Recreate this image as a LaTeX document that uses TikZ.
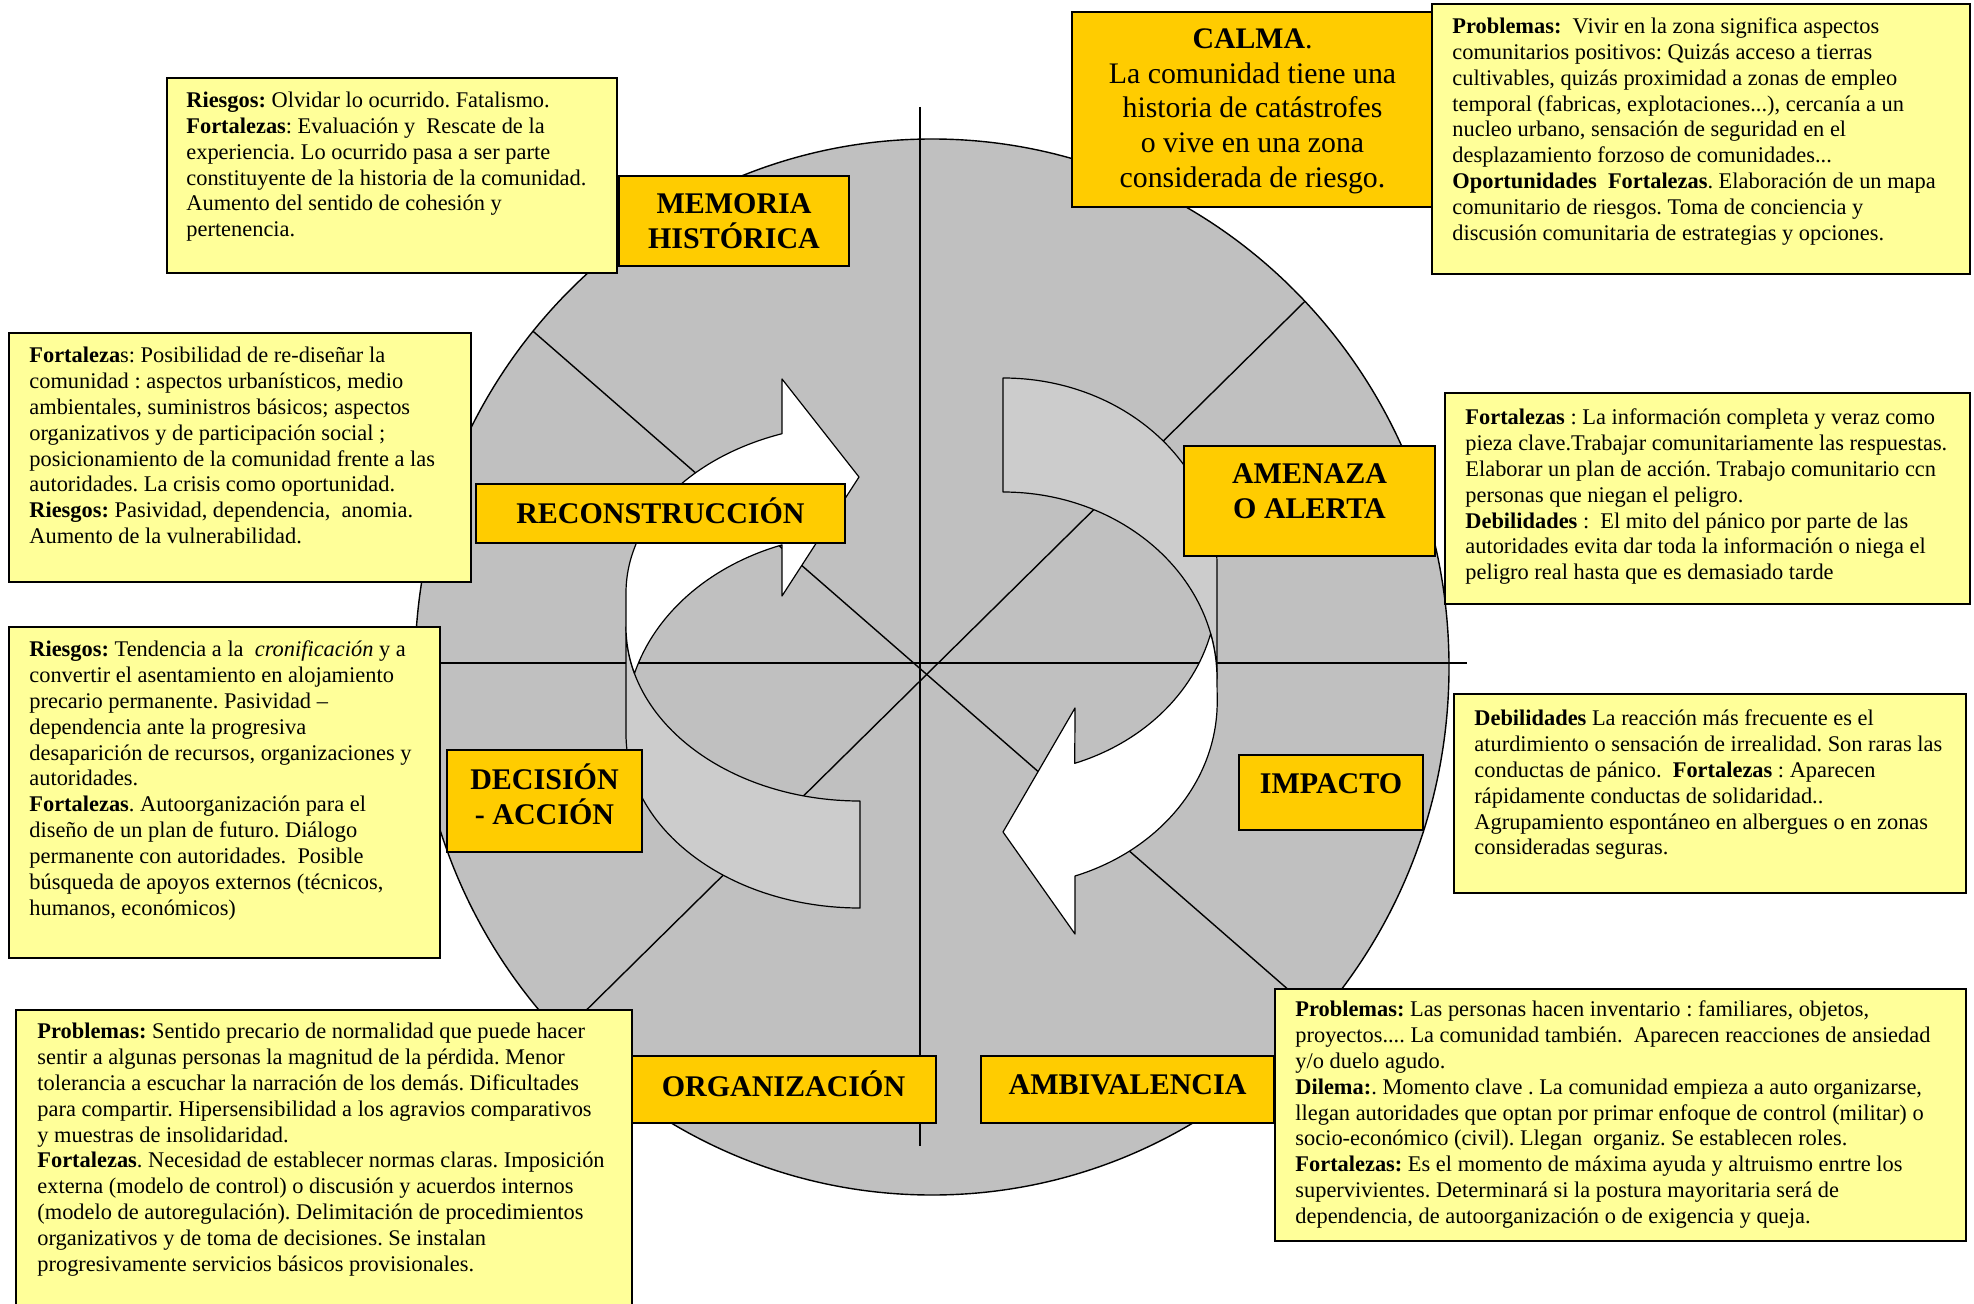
\documentclass[tikz,border=0pt]{standalone}
\usepackage{fontspec}
\setmainfont{Liberation Serif}
\frenchspacing
\definecolor{circgray}{HTML}{C0C0C0}
\definecolor{bandgray}{HTML}{CCCCCC}
\definecolor{gold}{HTML}{FFCC00}
\definecolor{paleyellow}{HTML}{FFFF99}
\newcommand\bodyfnt{\fontsize{11.2}{12.95}\selectfont}
\newcommand\labfnt{\fontsize{15}{17.5}\selectfont\bfseries}
\newcommand\calmafnt{\fontsize{14.9}{17.4}\selectfont}
\newcommand\bstrut{\rule{0pt}{10pt}}
\newcommand\lstrut{\rule{0pt}{12pt}}
\tikzset{
 tbox/.style={draw=black, line width=0.9pt, fill=paleyellow, rectangle, inner sep=0pt, outer sep=0pt, anchor=north west},
 gbox/.style={draw=black, line width=0.8pt, fill=gold, rectangle, inner sep=0pt, outer sep=0pt, anchor=north west},
 ttext/.style={anchor=north west, align=left, inner sep=0pt, font=\bodyfnt},
 ltext/.style={anchor=north, align=center, inner sep=0pt, font=\labfnt},
 arrowline/.style={draw=black, line width=0.6pt, line join=round},
 divline/.style={draw=black, line width=0.7pt},
}
\begin{document}
\begin{tikzpicture}[x=0.5pt,y=-0.5pt]
\useasboundingbox (0,0) rectangle (1974,1304);
% wheel
\draw[fill=circgray, line width=0.7pt] (932,667) ellipse [x radius=258.5pt, y radius=264pt];
\begin{scope}
\clip (932,667) ellipse [x radius=258.5pt, y radius=264pt];
\draw[divline] (480,285) -- (1400,1087);
\draw[divline] (1360,247) -- (480,1115);
\end{scope}
\draw[divline] (920,107) -- (920,1146);
\draw[divline] (441,663) -- (1467,663);
% right arrow: back band (grey), then front band (white) with head
\path[arrowline, fill=bandgray] (1003,378) arc[start angle=90, end angle=0, x radius=107pt, y radius=93.5pt]
  -- (1217,679) arc[start angle=0, end angle=90, x radius=107pt, y radius=93.5pt] -- cycle;
\path[arrowline, fill=white] (1210.6,633.8) arc[start angle=-14, end angle=-70.4, x radius=107pt, y radius=92.5pt]
  -- (1075,708) -- (1003,832) -- (1075,934) -- (1075,876)
  arc[start angle=-70.4, end angle=0, x radius=107pt, y radius=92.5pt]
  -- (1217,679) arc[start angle=0, end angle=14, x radius=107pt, y radius=93.5pt] -- cycle;
% left arrow: back band (grey), then front band (white) with head
\path[arrowline, fill=bandgray] (860,908) arc[start angle=270, end angle=180, x radius=117pt, y radius=87pt]
  -- (626,627) arc[start angle=180, end angle=270, x radius=117pt, y radius=87pt] -- cycle;
\path[arrowline, fill=white] (634.5,673.4) arc[start angle=164.55, end angle=109.47, x radius=117pt, y radius=95pt]
  -- (782,596) -- (859,477) -- (782,379) -- (782,433.7)
  arc[start angle=109.47, end angle=180, x radius=117pt, y radius=84.5pt]
  -- (626,627) arc[start angle=180, end angle=195.45, x radius=117pt, y radius=87pt] -- cycle;
% phase labels
\node[gbox, minimum width=115pt, minimum height=45pt] (memoriabox) at (619,176) {};
\node[ltext] (memoria) at (734,189) {\lstrut MEMORIA\\HISTÓRICA};
\node[gbox, minimum width=184.5pt, minimum height=29.5pt] (reconbox) at (476,484) {};
\node[ltext] (recon) at (660.5,497) {\lstrut RECONSTRUCCIÓN};
\node[gbox, minimum width=125.5pt, minimum height=55pt] (amenazabox) at (1184,446) {};
\node[ltext] (amenaza) at (1309.5,459) {\lstrut AMENAZA\\O ALERTA};
\node[gbox, minimum width=97.5pt, minimum height=51pt] (decisionbox) at (447,750) {};
\node[ltext] (decision) at (544.5,763) {\lstrut DECISIÓN\\- ACCIÓN};
\node[gbox, minimum width=92pt, minimum height=37.5pt] (impactobox) at (1239,755) {};
\node[ltext] (impacto) at (1331,769) {\lstrut IMPACTO};
\node[gbox, minimum width=152.5pt, minimum height=33.5pt] (organizbox) at (631,1056) {};
\node[ltext] (organiz) at (783.5,1070) {\lstrut ORGANIZACIÓN};
\node[gbox, minimum width=146.5pt, minimum height=33.5pt] (ambivalbox) at (981,1056) {};
\node[ltext] (ambival) at (1127.5,1070) {\lstrut AMBIVALENCIA};
\node[gbox, minimum width=180.5pt, minimum height=97.5pt] (calmabox) at (1072,12) {};
\node[anchor=north, align=center, inner sep=0pt, font=\calmafnt] (calma) at (1252.5,24) {\lstrut\textbf{CALMA}.\\La comunidad tiene una\\historia de catástrofes\\o vive en una zona\\considerada de riesgo.};
% text boxes
\node[tbox, minimum width=225pt, minimum height=97.5pt] (t1box) at (167,78) {};
\node[ttext] (t1) at (186,87) {\bstrut\textbf{Riesgos:} Olvidar lo ocurrido. Fatalismo.\\
\textbf{Fortalezas}: Evaluación y\ \ Rescate de la\\
experiencia. Lo ocurrido pasa a ser parte\\
constituyente de la historia de la comunidad.\\
Aumento del sentido de cohesión y\\
pertenencia.};
\node[tbox, minimum width=269pt, minimum height=135pt] (t2box) at (1432,4) {};
\node[ttext] (t2) at (1452,13) {\bstrut\textbf{Problemas:}\ \ Vivir en la zona significa aspectos\\
comunitarios positivos: Quizás acceso a tierras\\
cultivables, quizás proximidad a zonas de empleo\\
temporal (fabricas, explotaciones...), cercanía a un\\
nucleo urbano, sensación de seguridad en el\\
desplazamiento forzoso de comunidades...\\
\textbf{Oportunidades\ \ Fortalezas}. Elaboración de un mapa\\
comunitario de riesgos. Toma de conciencia y\\
discusión comunitaria de estrategias y opciones.};
\node[tbox, minimum width=231pt, minimum height=124.5pt] (t3box) at (9,333) {};
\node[ttext] (t3) at (29,342) {\bstrut\textbf{Fortaleza}s: Posibilidad de re-diseñar la\\
comunidad : aspectos urbanísticos, medio\\
ambientales, suministros básicos; aspectos\\
organizativos y de participación social ;\\
posicionamiento de la comunidad frente a las\\
autoridades. La crisis como oportunidad.\\
\textbf{Riesgos:} Pasividad, dependencia,\ \ anomia.\\
Aumento de la vulnerabilidad.};
\node[tbox, minimum width=262.5pt, minimum height=105.5pt] (t4box) at (1445,393) {};
\node[ttext] (t4) at (1465,404) {\bstrut\textbf{Fortalezas} : La información completa y veraz como\\
pieza clave.Trabajar comunitariamente las respuestas.\\
Elaborar un plan de acción. Trabajo comunitario ccn\\
personas que niegan el peligro.\\
\textbf{Debilidades} :\ \ El mito del pánico por parte de las\\
autoridades evita dar toda la información o niega el\\
peligro real hasta que es demasiado tarde};
\node[tbox, minimum width=215.5pt, minimum height=165.5pt] (t5box) at (9,627) {};
\node[ttext] (t5) at (29,636) {\bstrut\textbf{Riesgos:} Tendencia a la\ \ \textit{cronificación} y a\\
convertir el asentamiento en alojamiento\\
precario permanente. Pasividad –\\
dependencia ante la progresiva\\
desaparición de recursos, organizaciones y\\
autoridades.\\
\textbf{Fortalezas}. Autoorganización para el\\
diseño de un plan de futuro. Diálogo\\
permanente con autoridades.\ \ Posible\\
búsqueda de apoyos externos (técnicos,\\
humanos, económicos)};
\node[tbox, minimum width=256pt, minimum height=99.5pt] (t6box) at (1454,694) {};
\node[ttext] (t6) at (1474,705) {\bstrut\textbf{Debilidades} La reacción más frecuente es el\\
aturdimiento o sensación de irrealidad. Son raras las\\
conductas de pánico.\ \ \textbf{Fortalezas} : Aparecen\\
rápidamente conductas de solidaridad..\\
Agrupamiento espontáneo en albergues o en zonas\\
consideradas seguras.};
\node[tbox, minimum width=308pt, minimum height=151pt] (t7box) at (16,1010) {};
\node[ttext] (t7) at (37,1018) {\bstrut\textbf{Problemas:} Sentido precario de normalidad que puede hacer\\
sentir a algunas personas la magnitud de la pérdida. Menor\\
tolerancia a escuchar la narración de los demás. Dificultades\\
para compartir. Hipersensibilidad a los agravios comparativos\\
y muestras de insolidaridad.\\
\textbf{Fortalezas}. Necesidad de establecer normas claras. Imposición\\
externa (modelo de control) o discusión y acuerdos internos\\
(modelo de autoregulación). Delimitación de procedimientos\\
organizativos y de toma de decisiones. Se instalan\\
progresivamente servicios básicos provisionales.};
\node[tbox, minimum width=345.5pt, minimum height=126pt] (t8box) at (1275,989) {};
\node[ttext] (t8) at (1295,996) {\bstrut\textbf{Problemas:} Las personas hacen inventario : familiares, objetos,\\
proyectos.... La comunidad también.\ \ Aparecen reacciones de ansiedad\\
y/o duelo agudo.\\
\textbf{Dilema:}. Momento clave . La comunidad empieza a auto organizarse,\\
llegan autoridades que optan por primar enfoque de control (militar) o\\
socio-económico (civil). Llegan\ \ organiz. Se establecen roles.\\
\textbf{Fortalezas:} Es el momento de máxima ayuda y altruismo enrtre los\\
supervivientes. Determinará si la postura mayoritaria será de\\
dependencia, de autoorganización o de exigencia y queja.};
\end{tikzpicture}
\end{document}
